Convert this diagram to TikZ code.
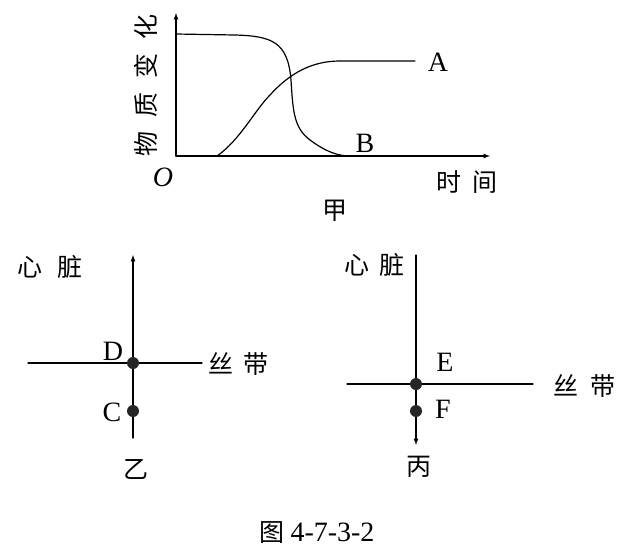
\documentclass[tikz,border=0pt]{standalone}
\usepackage{fontspec}
\setmainfont{Liberation Serif}
\newfontfamily\cjk{Noto Sans CJK SC}
\usetikzlibrary{positioning}

\begin{document}
\begin{tikzpicture}[x=1pt, y=-1pt, >=latex, line width=1.2pt, line join=round, line cap=round,
  every node/.style={font=\fontsize{28}{32}\selectfont},
  hanzi/.style={font=\cjk\fontsize{25}{30}\selectfont},
  dot/.style={circle, fill=black!85, inner sep=0pt, minimum size=12pt}]
  \useasboundingbox (0,0) rectangle (627,547);

  % Graph jia: axes
  \coordinate (O) at (176,156);
  \coordinate (xend) at (490,156);
  \coordinate (yend) at (176,13);
  \draw[->] (O) -- (xend);
  \draw[->] (O) -- (yend);
  \node (o) at (163,177) {\itshape O};
  \node[hanzi] (time) at (467,182) {时\hspace{11pt}间};
  \node[hanzi, rotate=90] (amount) at (146,85) {物\hspace{14pt}质\hspace{14pt}变\hspace{14pt}化};
  \node[hanzi] (jia) at (335,211) {甲};

  % Curves A and B
  \coordinate (A0) at (217,156);
  \coordinate (A1) at (415,61);
  \draw (A0) .. controls (240,140) and (255,110) .. (270,95)
        .. controls (290,73) and (312,61) .. (340,61) -- (A1);
  \node (A) at (438,62) {A};
  \coordinate (B0) at (176,34);
  \coordinate (B1) at (347,156);
  \draw (B0) -- (235,35) .. controls (272,36) and (288,42) .. (291,80)
        .. controls (293,112) and (294,128) .. (310,140)
        .. controls (322,149) and (334,155) .. (B1);
  \node (B) at (365,143) {B};

  % Graph yi
  \coordinate (yibot) at (133,438);
  \coordinate (yitop) at (133,255);
  \coordinate (yiL) at (28,363);
  \coordinate (yiR) at (202,363);
  \draw[->] (yibot) -- (yitop);
  \draw (yiL) -- (yiR);
  \node[dot] (D) at (133,363) {};
  \node[dot] (C) at (133,411) {};
  \node (Dl) at (113,351) {D};
  \node (Cl) at (112,412) {C};
  \node[hanzi] (heart1) at (50,267) {心\hspace{15pt}脏};
  \node[hanzi] (ribbon1) at (238,364) {丝\hspace{10pt}带};
  \node[hanzi] (yi) at (136,469) {乙};

  % Graph bing
  \coordinate (bingtop) at (416,255);
  \coordinate (bingbot) at (416,445);
  \coordinate (bingL) at (347,384);
  \coordinate (bingR) at (533,384);
  \draw[->] (bingtop) -- (bingbot);
  \draw (bingL) -- (bingR);
  \node[dot] (E) at (416,384) {};
  \node[dot] (F) at (416,411) {};
  \node (El) at (445,362) {E};
  \node (Fl) at (443,409) {F};
  \node[hanzi] (heart2) at (374,265) {心\hspace{10pt}脏};
  \node[hanzi] (ribbon2) at (584,386) {丝\hspace{12pt}带};
  \node[hanzi] (bing) at (419,467) {丙};

  % Caption
  \node[inner sep=1pt] (cap) at (317,533) {{\cjk\fontsize{25}{30}\selectfont 图}\hspace{6pt}4-7-3-2};
\end{tikzpicture}
\end{document}
